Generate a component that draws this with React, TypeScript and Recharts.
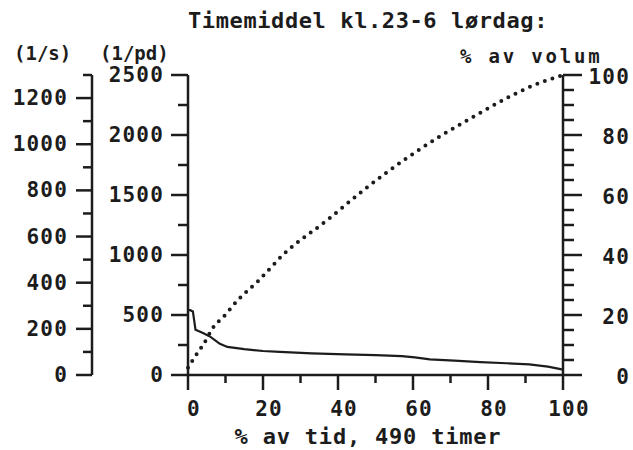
import React from 'react';
import { LineChart, Line, XAxis, YAxis } from 'recharts';

// flow duration curve (l/pd) against % of time
const flowTime = [0, 0.6, 1.3, 2, 4, 6, 8.5, 10.5, 15, 20, 24.5, 33, 42, 50, 57, 60.5, 64.5, 71, 78, 85, 91, 96, 100];
const flowValues = [540, 540, 530, 378, 350, 318, 260, 234, 215, 200, 192, 181, 172, 165, 158, 147, 131, 120, 108, 98, 89, 70, 45];

// cumulative % of volume against % of time
const volumeTime = [0, 1.3, 2.7, 4, 6.7, 9.9, 13.3, 18.7, 25.3, 37.3, 47.2, 57.3, 67.5, 76.3, 85, 92, 100];
const volumeValues = [2.4, 5, 7.7, 10, 15.8, 20, 25, 31.3, 40, 51.8, 62, 71.4, 79.8, 86.2, 92.3, 96.5, 100];

// l/s scale end points (axis only, nothing drawn)
const sRangeTime = [0, 100];
const sRangeValues = [0, 1300];

const timeTicks = [0, 10, 20, 30, 40, 50, 60, 70, 80, 90, 100];
const pdTicks = [0, 250, 500, 750, 1000, 1250, 1500, 1750, 2000, 2250, 2500];
const sTicks = [0, 100, 200, 300, 400, 500, 600, 700, 800, 900, 1000, 1100, 1200, 1300];
const pctTicks = [0, 5, 10, 15, 20, 25, 30, 35, 40, 45, 50, 55, 60, 65, 70, 75, 80, 85, 90, 95, 100];

const flowRows = flowTime.map((t, i) => ({ t, flow: flowValues[i] }));
const volumeRows = volumeTime.map((t, i) => ({ t, volume: volumeValues[i] }));
const sRows = sRangeTime.map((t, i) => ({ t, s: sRangeValues[i] }));

const INK = '#1c1c1c';
const FONT = '"DejaVu Sans Mono", monospace';
const tickText = { fontFamily: FONT, fontWeight: 700, fontSize: 21, letterSpacing: 1.2, fill: INK };

const leftTick = (every: number, majorLen: number, minorLen: number, gap: number) => (props: any) => {
  const { x, y, payload } = props;
  const major = payload.value % every === 0;
  return (
    <g>
      <line x1={x - (major ? majorLen : minorLen)} x2={x} y1={y} y2={y} stroke={INK} strokeWidth={2.5} />
      {major && (
        <text x={x - gap} y={y} textAnchor="end" dominantBaseline="central" style={tickText}>
          {payload.value}
        </text>
      )}
    </g>
  );
};

const rightTick = (props: any) => {
  const { x, y, payload } = props;
  const major = payload.value % 20 === 0;
  return (
    <g>
      <line x1={x} x2={x + (major ? 19 : 11)} y1={y} y2={y} stroke={INK} strokeWidth={2.5} />
      {major && (
        <text x={x + 67} y={y + 2} textAnchor="end" dominantBaseline="central" style={tickText}>
          {payload.value}
        </text>
      )}
    </g>
  );
};

const bottomTick = (props: any) => {
  const { x, y, payload } = props;
  const major = payload.value % 20 === 0;
  return (
    <g>
      <line x1={x} x2={x} y1={y} y2={y + (major ? 15 : 8)} stroke={INK} strokeWidth={2.5} />
      {major && (
        <text x={x + 6} y={y + 34} textAnchor="middle" dominantBaseline="central" style={tickText}>
          {payload.value}
        </text>
      )}
    </g>
  );
};

const axisLine = { stroke: INK, strokeWidth: 2.5 };

export default function App() {
  return (
    <div style={{ position: 'absolute', left: 0, top: 0, width: 633, height: 450, background: '#fff' }}>
      <LineChart width={633} height={450} margin={{ top: 75, right: 8, bottom: 8, left: 8 }}>
        <XAxis
          dataKey="t"
          type="number"
          domain={[0, 100]}
          ticks={timeTicks}
          height={67}
          axisLine={axisLine}
          tickLine={false}
          tickSize={0}
          tickMargin={0}
          tick={bottomTick}
          interval={0}
        />
        <YAxis
          yAxisId="pd"
          orientation="left"
          width={96}
          domain={[0, 2500]}
          ticks={pdTicks}
          axisLine={axisLine}
          tickLine={false}
          tickSize={0}
          tickMargin={0}
          tick={leftTick(500, 17, 10, 24)}
          interval={0}
        />
        <YAxis
          yAxisId="s"
          orientation="left"
          width={84}
          domain={[0, 1300]}
          ticks={sTicks}
          axisLine={axisLine}
          tickLine={false}
          tickSize={0}
          tickMargin={0}
          tick={leftTick(200, 16, 9, 24)}
          interval={0}
        />
        <YAxis
          yAxisId="pct"
          orientation="right"
          width={62}
          domain={[0, 100]}
          ticks={pctTicks}
          axisLine={axisLine}
          tickLine={false}
          tickSize={0}
          tickMargin={0}
          tick={rightTick}
          interval={0}
        />
        <Line
          yAxisId="s"
          data={sRows}
          dataKey="s"
          stroke="none"
          dot={false}
          activeDot={false}
          isAnimationActive={false}
        />
        <Line
          yAxisId="pd"
          data={flowRows}
          dataKey="flow"
          type="linear"
          stroke={INK}
          strokeWidth={2.2}
          dot={false}
          isAnimationActive={false}
        />
        <Line
          yAxisId="pct"
          data={volumeRows}
          dataKey="volume"
          type="monotone"
          stroke={INK}
          strokeWidth={4}
          strokeDasharray="0 8"
          strokeLinecap="round"
          dot={false}
          isAnimationActive={false}
        />
      </LineChart>
      <svg width={633} height={450} style={{ position: 'absolute', left: 0, top: 0, pointerEvents: 'none' }}>
        <g fontFamily={FONT} fontWeight={700} fill={INK}>
          <text x={368} y={28} textAnchor="middle" fontSize={22} letterSpacing={0.6}>Timemiddel kl.23-6 lørdag:</text>
          <text x={14} y={60} fontSize={19}>(1/s)</text>
          <text x={100} y={60} fontSize={19}>(1/pd)</text>
          <text x={460} y={63} fontSize={19} letterSpacing={2.8}>% av volum</text>
          <text x={368} y={444} textAnchor="middle" fontSize={22} letterSpacing={0.8}>% av tid, 490 timer</text>
        </g>
      </svg>
    </div>
  );
}
